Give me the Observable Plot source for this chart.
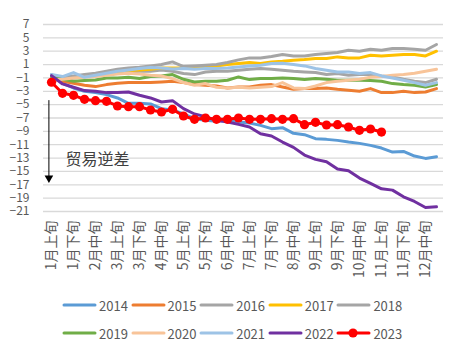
<!DOCTYPE html>
<html>
<head>
<meta charset="utf-8">
<script src="https://cdn.jsdelivr.net/npm/d3@7"></script>
<script src="https://cdn.jsdelivr.net/npm/@observablehq/plot@0.6"></script>
<style>
  html, body { margin: 0; padding: 0; background: #fff; }
  #wrap { width: 460px; height: 353px; position: relative; font-family: "Noto Sans CJK SC", "Noto Sans", sans-serif; color: #595959; }
  #legend { position: absolute; left: 0; top: 291px; width: 460px; }
  .row { display: flex; height: 28px; align-items: center; padding-left: 62px; }
  .item { display: flex; align-items: center; width: 68.6px; font-size: 13px; }
  .item svg { margin-right: 2px; }
</style>
</head>
<body>
<div id="wrap"><div id="chart"></div><div id="legend"></div></div>
<script>
// ---- data ----
const months = ["1月","2月","3月","4月","5月","6月","7月","8月","9月","10月","11月","12月"];
const dekads = ["上旬","中旬","下旬"];
const categories = months.flatMap(m => dekads.map(d => m + d));
const yTicks = [7,5,3,1,-1,-3,-5,-7,-9,-11,-13,-15,-17,-19,-21];

const years  = ["2014","2015","2016","2017","2018","2019","2020","2021","2022","2023"];
const colors = ["#5B9BD5","#ED7D31","#A5A5A5","#FFC000","#A5A5A5","#70AD47","#F8C499","#9DC3E6","#7030A0","#FF0000"];

const v2014 = [-0.5,-1.8,-2.5,-3.0,-3.2,-3.5,-4.0,-4.8,-4.8,-4.9,-5.6,-5.8,-6.4,-7.1,-7.35,-7.5,-7.35,-7.6,-7.75,-8.1,-8.6,-8.45,-9.3,-9.5,-10.1,-10.2,-10.35,-10.6,-10.8,-11.1,-11.5,-12.1,-12.0,-12.7,-13.05,-12.8];
const v2015 = [-1.2,-1.5,-1.8,-2.1,-2.3,-2.0,-1.8,-1.7,-1.7,-1.7,-1.6,-1.5,-1.7,-2.0,-2.1,-2.2,-2.5,-2.35,-2.35,-2.1,-2.0,-2.35,-2.7,-2.6,-2.6,-2.5,-2.7,-2.85,-3.0,-2.6,-3.2,-3.2,-3.0,-3.2,-3.1,-2.6];
const v2016 = [-0.7,-1.2,-1.0,-0.8,-0.6,-0.4,-0.2,-0.1,0.0,0.0,0.2,0.0,-0.35,-0.5,-0.1,0.0,0.0,0.15,0.3,0.4,0.3,0.15,0.0,-0.1,-0.2,-0.5,-0.35,-0.6,-0.5,-0.5,-0.7,-0.85,-1.2,-1.5,-1.7,-1.2];
const v2017 = [-0.8,-1.0,-0.9,-0.7,-0.5,-0.3,-0.1,0.1,0.2,0.3,0.5,0.5,0.5,0.4,0.65,0.8,1.0,1.15,1.3,1.15,1.4,1.5,1.65,1.75,1.9,1.9,2.15,2.0,2.0,2.4,2.3,2.4,2.5,2.5,2.3,3.0];
const v2018 = [-0.8,-0.9,-0.7,-0.5,-0.3,0.0,0.3,0.5,0.6,0.8,1.0,1.4,0.7,0.8,0.9,1.0,1.3,1.7,2.0,2.0,2.2,2.5,2.3,2.3,2.5,2.65,2.8,3.15,3.0,3.3,3.15,3.4,3.4,3.3,3.15,4.0];
const v2019 = [-0.8,-1.2,-1.5,-1.4,-1.3,-1.0,-1.0,-0.9,-1.1,-0.8,-0.7,-0.5,-1.2,-1.6,-1.5,-1.5,-1.35,-0.85,-1.25,-1.1,-1.1,-1.0,-1.1,-1.25,-1.1,-1.2,-1.35,-1.35,-1.35,-1.4,-1.5,-1.85,-2.0,-2.1,-2.35,-2.0];
const v2020 = [-1.3,-1.2,-1.0,-0.9,-0.8,-0.6,-0.4,-0.3,-0.4,-0.6,-0.7,-1.1,-1.7,-2.1,-1.85,-2.4,-2.5,-2.4,-2.5,-2.4,-2.3,-1.7,-2.5,-2.6,-2.2,-1.7,-1.5,-1.35,-1.2,-0.9,-0.8,-0.6,-0.5,-0.3,0.0,0.3];
const v2021 = [-0.5,-0.8,-0.2,-0.9,-0.6,-0.3,0.0,0.2,0.4,0.55,0.5,0.35,0.4,0.3,0.4,0.4,0.5,0.65,0.8,0.9,1.15,1.2,1.0,0.8,0.4,0.15,-0.1,-0.1,-0.35,-0.2,-0.7,-1.0,-1.35,-1.7,-2.1,-1.7];
const v2022 = [-0.65,-1.9,-2.4,-2.9,-3.0,-3.2,-3.2,-3.1,-3.6,-4.0,-4.6,-4.4,-5.6,-6.4,-6.8,-7.35,-7.6,-7.95,-8.35,-9.35,-9.7,-10.6,-11.4,-12.55,-13.2,-13.55,-14.65,-14.9,-16.0,-16.8,-17.6,-17.8,-18.8,-19.5,-20.4,-20.3];
const v2023 = [-1.65,-3.3,-3.6,-4.2,-4.4,-4.5,-5.2,-5.3,-5.3,-5.8,-6.1,-5.7,-6.7,-7.2,-7.0,-7.2,-7.2,-7.0,-7.2,-7.2,-7.1,-7.2,-7.1,-8.0,-7.65,-8.05,-8.0,-8.35,-8.85,-8.65,-9.1];

const annotationText = "贸易逆差";
const arrowFrom = -4.4, arrowTo = -16.0, annotationY = -13.2;

// ---- build ----
const seriesValues = [v2014,v2015,v2016,v2017,v2018,v2019,v2020,v2021,v2022,v2023];
const series = years.map((y, k) => ({
  year: y, color: colors[k],
  rows: seriesValues[k].map((v, i) => ({cat: categories[i], v}))
}));
const xTicks = categories.filter((c, i) => i % 2 === 0);

const lineMarks = series.map(s => Plot.line(s.rows, {x: "cat", y: "v", stroke: s.color, strokeWidth: 3, strokeLinejoin: "round", strokeLinecap: "round"}));
const red = series[9];

const chart = Plot.plot({
  width: 460, height: 288,
  marginTop: 24, marginBottom: 77, marginLeft: 43, marginRight: 17,
  style: {fontFamily: "'Noto Sans CJK SC', 'Noto Sans', sans-serif", fontSize: "12px", color: "#595959", background: "#fff"},
  x: {type: "point", domain: categories, padding: 0.5, axis: null},
  y: {domain: [-21, 7], axis: null},
  marks: [
    Plot.gridY(yTicks, {stroke: "#D9D9D9", strokeOpacity: 1, strokeWidth: 1.3}),
    Plot.axisY(yTicks, {tickSize: 0, tickPadding: 14, fontSize: 12, fill: "#595959", label: null}),
    Plot.axisX(xTicks, {tickSize: 0, tickRotate: -90, tickPadding: 9, fontSize: 14, fill: "#595959", label: null}),
    Plot.ruleX([categories[0]], {y1: arrowFrom, y2: arrowTo, dx: -2.6, stroke: "#000", strokeWidth: 1}),
    Plot.dot([categories[0]], {x: d => d, y: arrowTo, dx: -2.6, symbol: "triangle", rotate: 180, r: 3.2, fill: "#000", stroke: "none"}),
    Plot.text([{cat: categories[1], label: annotationText}], {x: "cat", y: () => annotationY, text: "label", dx: 3, textAnchor: "start", fontSize: 16, fill: "#404040"}),
    ...lineMarks,
    Plot.dot(red.rows, {x: "cat", y: "v", r: 4.6, fill: red.color, stroke: "none"})
  ]
});
document.getElementById("chart").appendChild(chart);

// ---- legend ----
const legend = document.getElementById("legend");
for (let r = 0; r < 2; r++) {
  const row = document.createElement("div");
  row.className = "row";
  for (let k = r * 5; k < r * 5 + 5; k++) {
    const item = document.createElement("div");
    item.className = "item";
    const dot = k === 9 ? `<circle cx="17" cy="6" r="4.6" fill="${colors[k]}"/>` : "";
    item.innerHTML = `<svg width="35" height="12"><line x1="2" y1="6" x2="33" y2="6" stroke="${colors[k]}" stroke-width="3" stroke-linecap="round"/>${dot}</svg><span>${years[k]}</span>`;
    row.appendChild(item);
  }
  legend.appendChild(row);
}
</script>
</body>
</html>
